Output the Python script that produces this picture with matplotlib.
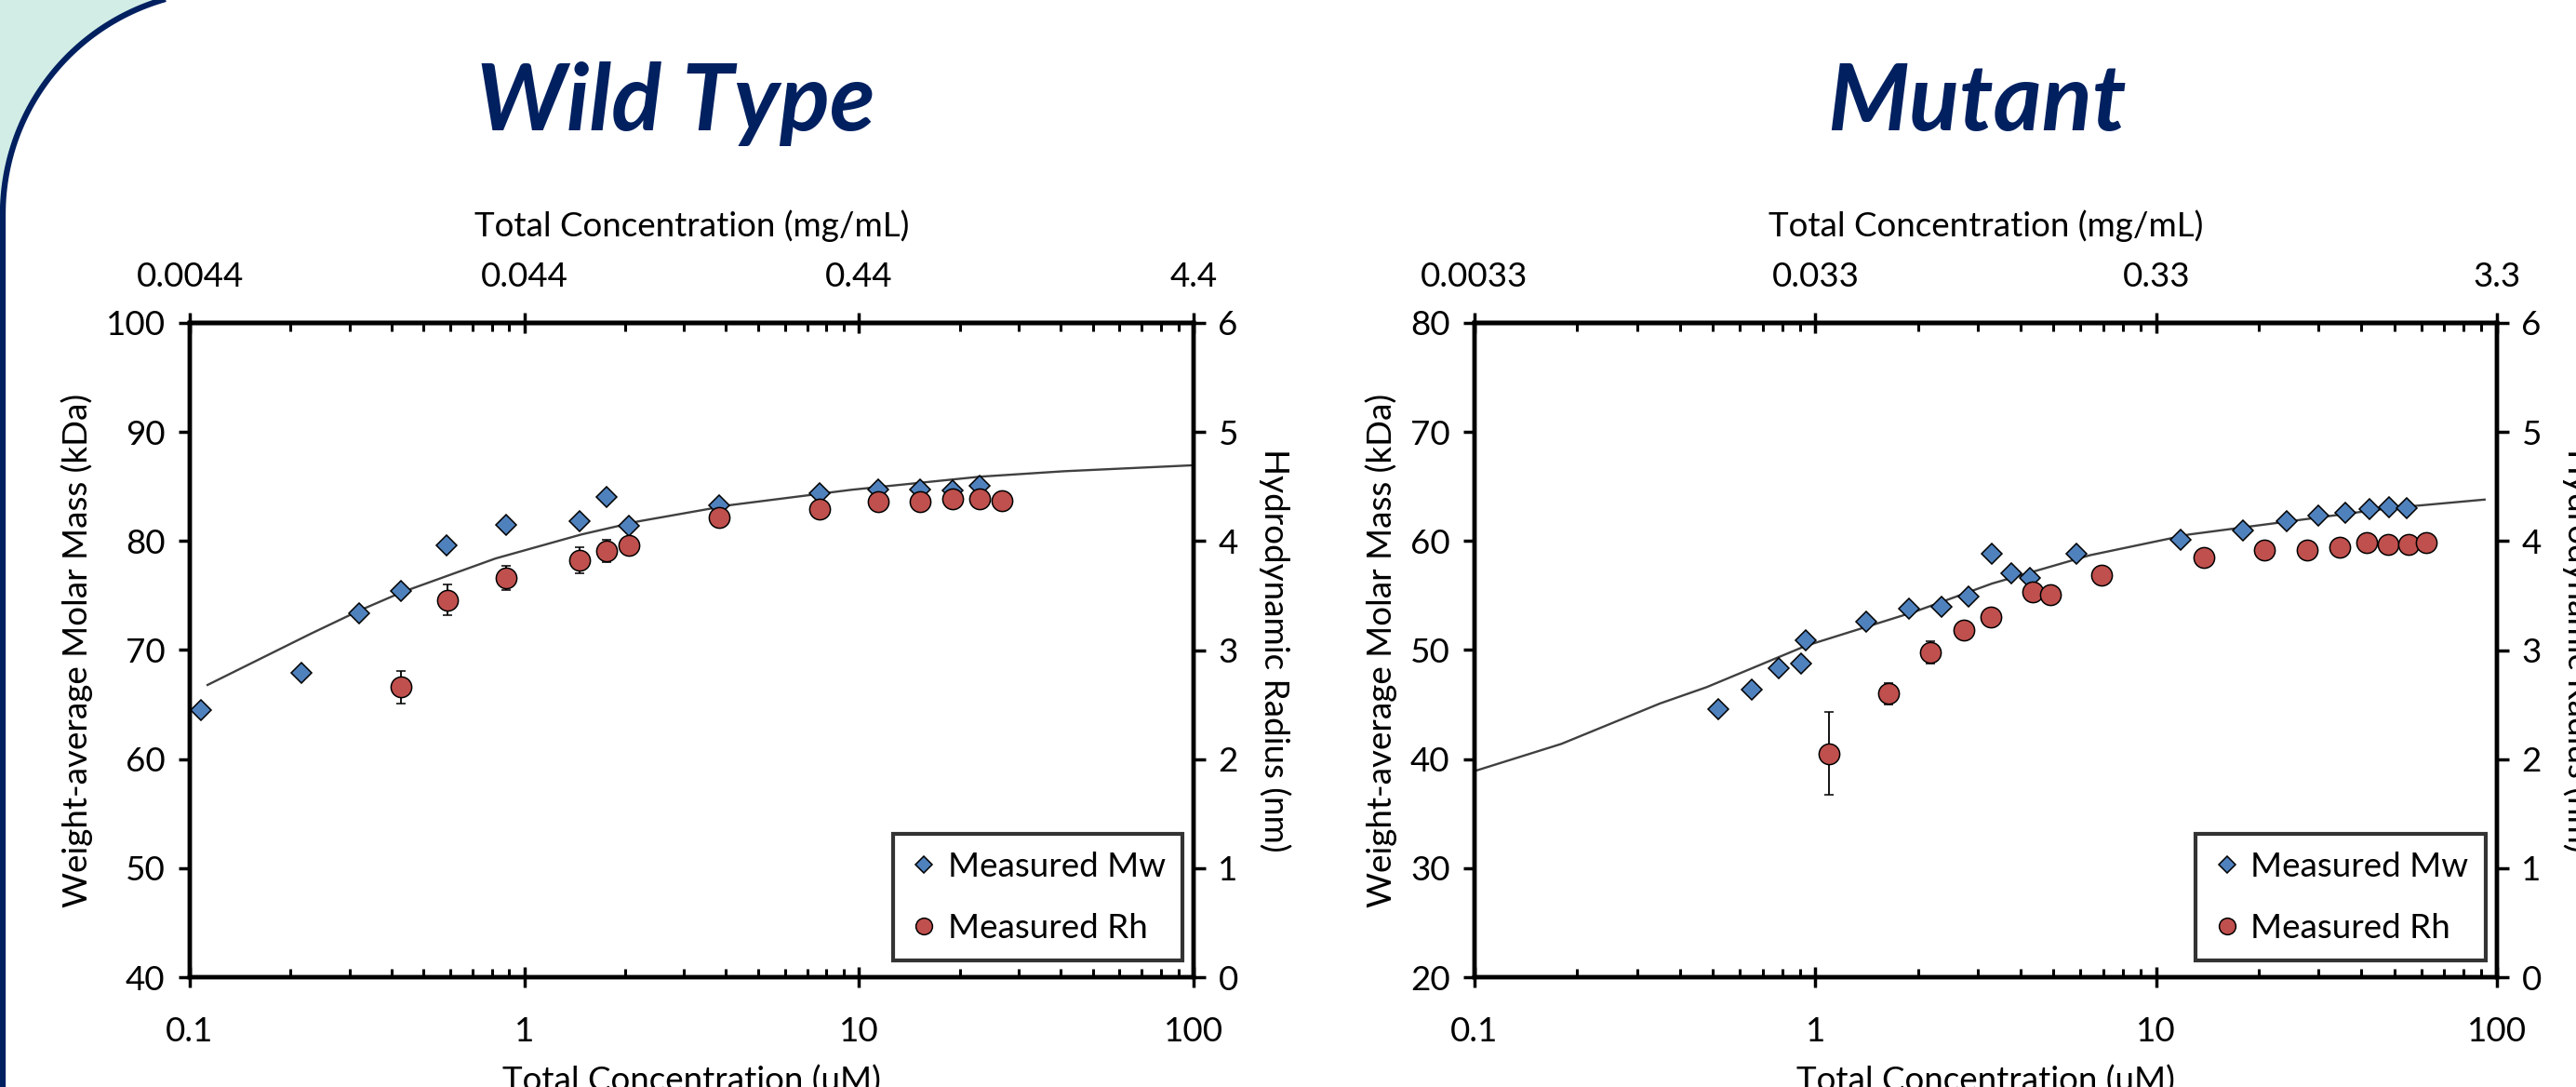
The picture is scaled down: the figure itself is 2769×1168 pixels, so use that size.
import numpy as np
import matplotlib.pyplot as plt
from matplotlib.ticker import LogLocator, NullFormatter

plt.rcParams['font.family'] = ['Lato', 'DejaVu Sans']

# ---- data ----
# Wild type
wt_mw_conc = [0.108, 0.215, 0.321, 0.428, 0.587, 0.879, 1.466, 1.76, 2.05, 3.81, 7.64, 11.4, 15.2, 19.0, 23.0]
wt_mw = [64.5, 67.9, 73.4, 75.4, 79.6, 81.5, 81.8, 84.0, 81.4, 83.3, 84.4, 84.7, 84.7, 84.6, 85.1]
wt_rh_conc = [0.428, 0.59, 0.879, 1.466, 1.76, 2.05, 3.81, 7.64, 11.4, 15.2, 19.0, 23.0, 26.7]
wt_rh = [2.66, 3.46, 3.66, 3.82, 3.91, 3.96, 4.22, 4.29, 4.36, 4.365, 4.385, 4.39, 4.37]
wt_rh_err = [0.15, 0.14, 0.11, 0.12, 0.10, 0.05, 0.03, 0.03, 0.02, 0.02, 0.02, 0.02, 0.02]
wt_fit_conc = [0.113, 0.23, 0.32, 0.43, 0.82, 1.48, 2.19, 4.14, 9.5, 23, 41, 100]
wt_fit_mw = [66.8, 71.5, 73.6, 75.3, 78.4, 80.6, 81.8, 83.3, 84.7, 85.9, 86.4, 86.95]
wt_top_labels = ['0.0044', '0.044', '0.44', '4.4']

# Mutant
mut_mw_conc = [0.52, 0.65, 0.78, 0.91, 0.94, 1.41, 1.88, 2.35, 2.82, 3.3, 3.75, 4.26, 5.85,
               11.8, 18.0, 24.2, 30.0, 36.0, 42.2, 48.3, 54.2]
mut_mw = [44.6, 46.4, 48.3, 48.8, 50.9, 52.6, 53.8, 54.0, 54.9, 58.8, 57.0, 56.6, 58.8,
          60.1, 61.0, 61.8, 62.3, 62.6, 62.9, 63.1, 63.0]
mut_rh_conc = [1.1, 1.64, 2.18, 2.73, 3.27, 4.35, 4.91, 6.9, 13.8, 20.8, 27.8, 34.6, 41.5, 48.0, 55.0, 62.0]
mut_rh = [2.05, 2.60, 2.98, 3.18, 3.30, 3.53, 3.51, 3.69, 3.85, 3.92, 3.92, 3.94, 3.985, 3.97, 3.97, 3.99]
mut_rh_err = [0.38, 0.10, 0.10, 0.08, 0.07, 0.03, 0.03, 0.02, 0.02, 0.02, 0.02, 0.02, 0.02, 0.02, 0.02, 0.02]
mut_fit_conc = [0.1, 0.18, 0.35, 0.48, 0.94, 1.95, 3.3, 6.4, 12.5, 24.5, 48, 92]
mut_fit_mw = [38.9, 41.4, 45.1, 46.6, 50.4, 53.5, 56.1, 58.7, 60.6, 61.8, 63.0, 63.8]
mut_top_labels = ['0.0033', '0.033', '0.33', '3.3']

NAVY = '#002060'
BLUE = '#4F81BD'
RED = '#C0504D'
FS = 26.5

fig = plt.figure(figsize=(27.69, 11.68), dpi=100)

# slide frame: teal corner and navy rounded border
bg = fig.add_axes([0, 0, 1, 1], zorder=-5)
bg.set_xlim(0, 2769)
bg.set_ylim(1168, 0)
bg.axis('off')
r, cx, cy = 240, 243, 230
t = np.linspace(np.pi, 1.5 * np.pi, 80)
arc_x = cx + r * np.cos(t)
arc_y = cy + r * np.sin(t)
bg.fill(np.r_[0, arc_x, 0], np.r_[cy, arc_y, cy - r], color='#D2EDE6', lw=0)
bg.plot(np.r_[arc_x[0], arc_x], np.r_[1200, arc_y], color=NAVY, lw=4.5, solid_capstyle='butt')


def panel(rect, title, title_x, mw_conc, mw, rh_conc, rh, rh_err, fit_conc, fit_mw,
          ylo, yhi, top_labels):
    ax = fig.add_axes(rect)
    ax.set_xscale('log')
    ax.set_xlim(0.1, 100)
    ax.set_ylim(ylo, yhi)
    ax.set_yticks(np.arange(ylo, yhi + 1, 10))
    ax.set_xticks([0.1, 1, 10, 100])
    ax.set_xticklabels(['0.1', '1', '10', '100'])
    ax.xaxis.set_minor_locator(LogLocator(base=10, subs=np.arange(2, 10)))
    ax.xaxis.set_minor_formatter(NullFormatter())
    ax.tick_params(axis='x', which='major', direction='inout', length=16, width=2.5,
                   labelsize=FS, pad=22)
    ax.tick_params(axis='x', which='minor', direction='in', length=6.5, width=2.2)
    ax.tick_params(axis='y', direction='out', length=9, width=2.5, labelsize=FS, pad=10)
    ax.set_xlabel('Total Concentration (uM)', fontsize=FS, labelpad=14)
    ax.set_ylabel('Weight-average Molar Mass (kDa)', fontsize=FS, labelpad=10)

    ax.plot(fit_conc, fit_mw, color='#404040', lw=1.7, zorder=2)
    mw_line, = ax.plot(mw_conc, mw, 'D', ms=11.5, mfc=BLUE, mec='black', mew=1.1,
                       ls='none', zorder=3)

    ax_r = ax.twinx()
    ax_r.set_ylim(0, 6)
    ax_r.set_yticks(range(0, 7))
    ax_r.tick_params(axis='y', direction='out', length=9, width=2.5, labelsize=FS, pad=10)
    ax_r.set_ylabel('Hydrodynamic Radius (nm)', fontsize=FS, rotation=270, va='bottom',
                    labelpad=16)
    eb = ax_r.errorbar(rh_conc, rh, yerr=rh_err, fmt='o', ms=16, mfc=RED, mec='black',
                       mew=1.1, ecolor='black', elinewidth=1.3, capsize=3.5, capthick=2)

    top = ax.secondary_xaxis('top')
    top.set_xticks([0.1, 1, 10, 100])
    top.set_xticklabels(top_labels)
    top.xaxis.set_minor_locator(LogLocator(base=10, subs=np.arange(2, 10)))
    top.xaxis.set_minor_formatter(NullFormatter())
    top.tick_params(which='major', direction='inout', length=16, width=2.5,
                    labelsize=FS, pad=16)
    top.tick_params(which='minor', direction='in', length=6.5, width=2.2)
    top.set_xlabel('Total Concentration (mg/mL)', fontsize=FS, labelpad=19)

    for a in (ax, ax_r, top):
        for s in a.spines.values():
            s.set_linewidth(3.2)

    leg = ax_r.legend([mw_line, eb[0]], ['Measured Mw', 'Measured Rh'],
                      loc='lower right', bbox_to_anchor=(0.989, 0.025),
                      borderaxespad=0, fontsize=FS, frameon=True, fancybox=False,
                      edgecolor='black', handlelength=0.8, handletextpad=0.3,
                      borderpad=0.5, labelspacing=0.9, markerscale=0.8)
    leg.get_frame().set_linewidth(3)

    fig.text(title_x, 1 - 140 / 1168, title, fontsize=72, fontweight='bold',
             fontstyle='italic', color=NAVY, ha='center', va='baseline')
    return ax


panel([204 / 2769, 1 - 1050 / 1168, 1079 / 2769, 703 / 1168], 'Wild Type', 726 / 2769,
      wt_mw_conc, wt_mw, wt_rh_conc, wt_rh, wt_rh_err, wt_fit_conc, wt_fit_mw,
      40, 100, wt_top_labels)
panel([1585 / 2769, 1 - 1050 / 1168, 1099 / 2769, 703 / 1168], 'Mutant', 2125 / 2769,
      mut_mw_conc, mut_mw, mut_rh_conc, mut_rh, mut_rh_err, mut_fit_conc, mut_fit_mw,
      20, 80, mut_top_labels)

fig.savefig('out.png', dpi=100)
